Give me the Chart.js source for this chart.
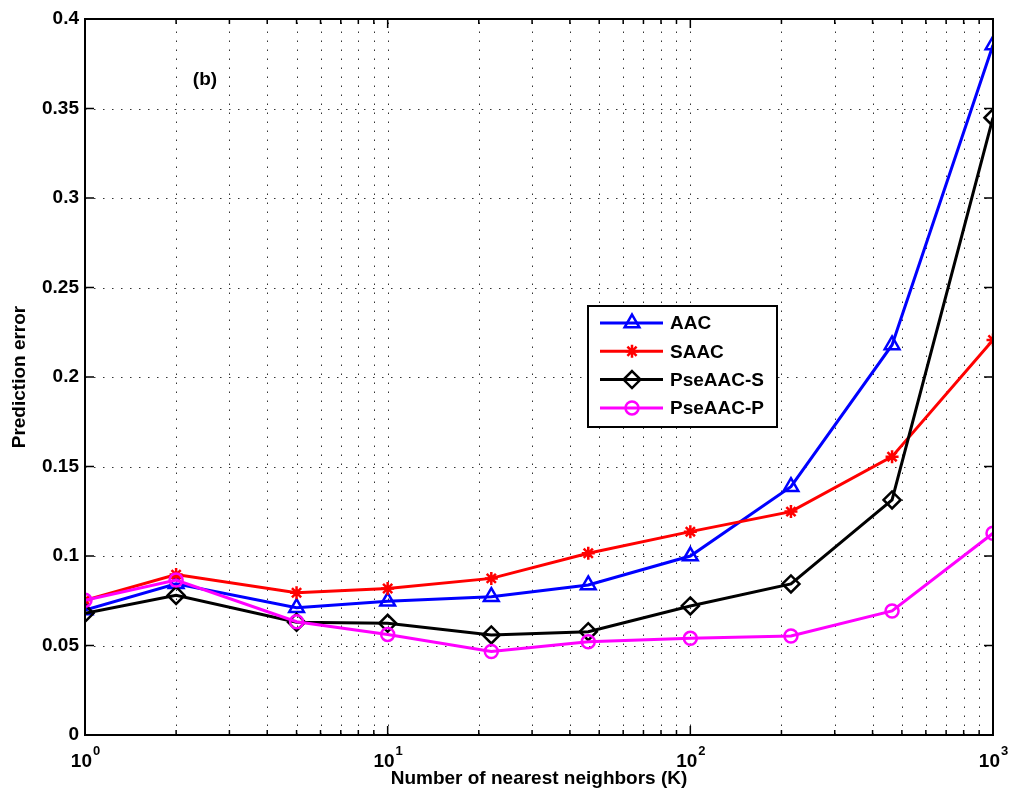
<!DOCTYPE html>
<html>
<head>
<meta charset="utf-8">
<script src="https://cdn.jsdelivr.net/npm/chart.js@4.4.1/dist/chart.umd.min.js"></script>
<style>
  html, body { margin: 0; padding: 0; background: #fff; }
  #wrap { width: 1017px; height: 798px; position: relative; }
</style>
</head>
<body>
<div id="wrap"><canvas id="error_graph"></canvas></div>
<script>
// K values (log scale) and prediction errors
const kValues   = [1, 2, 5, 10, 22, 46, 100, 215, 464, 1000];
const aac       = [0.0698, 0.0845, 0.0711, 0.0747, 0.0773, 0.0838, 0.1000, 0.1387, 0.2179, 0.3855];
const saac      = [0.0753, 0.0896, 0.0795, 0.0818, 0.0875, 0.1015, 0.1136, 0.1248, 0.1555, 0.2207];
const pseaacS   = [0.0680, 0.0780, 0.0630, 0.0624, 0.0559, 0.0577, 0.0721, 0.0844, 0.1313, 0.3449];
const pseaacP   = [0.0753, 0.0866, 0.0633, 0.0562, 0.0466, 0.0521, 0.0540, 0.0553, 0.0693, 0.1127];

const seriesNames   = ["AAC", "SAAC", "PseAAC-S", "PseAAC-P"];
const xTickValues   = [1, 10, 100, 1000];
const xTickBase     = ["10", "10", "10", "10"];
const xTickExp      = ["0", "1", "2", "3"];
const yTickValues   = [0, 0.05, 0.1, 0.15, 0.2, 0.25, 0.3, 0.35, 0.4];
const yTickLabels   = ["0", "0.05", "0.1", "0.15", "0.2", "0.25", "0.3", "0.35", "0.4"];

// minor grid positions 1..9 of each decade
let xGridValues = [];
for (let d of [1, 10, 100]){
    for (let m=1; m<10; m++){
        xGridValues.push(m*d);
    }
}
xGridValues.push(1000);

const FONT = "'Liberation Sans', Arial, Helvetica, sans-serif";

function points(ys){
    let pts = [];
    for (let i=0; i<kValues.length; i++){
        pts.push({x: kValues[i], y: ys[i]});
    }
    return pts;
}

function drawMarker(ctx, style, x, y, r){
    ctx.beginPath();
    if (style === "triangle"){
        for (let i=0; i<3; i++){
            let a = i*2*Math.PI/3;
            let px = x + Math.sin(a)*r, py = y - Math.cos(a)*r;
            if (i === 0) ctx.moveTo(px, py); else ctx.lineTo(px, py);
        }
        ctx.closePath();
    } else if (style === "star"){
        for (let i=0; i<4; i++){
            let a = i*Math.PI/4;
            ctx.moveTo(x - Math.cos(a)*r, y - Math.sin(a)*r);
            ctx.lineTo(x + Math.cos(a)*r, y + Math.sin(a)*r);
        }
    } else if (style === "rectRot"){
        ctx.moveTo(x, y - r);
        ctx.lineTo(x + r, y);
        ctx.lineTo(x, y + r);
        ctx.lineTo(x - r, y);
        ctx.closePath();
    } else {
        ctx.arc(x, y, r, 0, 2*Math.PI);
    }
    ctx.stroke();
}

const matlabAxes = {
    id: "matlabAxes",
    beforeDatasetsDraw(chart){
        const ctx = chart.ctx;
        const a   = chart.chartArea;
        const xs  = chart.scales.x;
        const ys  = chart.scales.y;
        ctx.save();
        ctx.strokeStyle = "#333";
        ctx.lineWidth = 1;
        ctx.setLineDash([1.5, 7.5]);
        for (let v of xGridValues){
            let px = Math.round(xs.getPixelForValue(v)) + 0.5;
            if (px <= a.left + 1 || px >= a.right - 1) continue;
            ctx.beginPath(); ctx.moveTo(px, a.bottom); ctx.lineTo(px, a.top); ctx.stroke();
        }
        for (let v of yTickValues){
            let py = Math.round(ys.getPixelForValue(v)) + 0.5;
            if (py <= a.top + 1 || py >= a.bottom - 1) continue;
            ctx.beginPath(); ctx.moveTo(a.left, py); ctx.lineTo(a.right, py); ctx.stroke();
        }
        ctx.restore();
    },
    afterDatasetsDraw(chart){
        const ctx = chart.ctx;
        const a   = chart.chartArea;
        const xs  = chart.scales.x;
        const ys  = chart.scales.y;
        ctx.save();
        ctx.setLineDash([]);
        ctx.strokeStyle = "#000";
        ctx.lineWidth = 1.5;
        // inner tick marks
        ctx.beginPath();
        for (let v of xGridValues){
            let px = xs.getPixelForValue(v);
            let len = xTickValues.includes(v) ? 9 : 5;
            ctx.moveTo(px, a.bottom); ctx.lineTo(px, a.bottom - len);
            ctx.moveTo(px, a.top);    ctx.lineTo(px, a.top + len);
        }
        for (let v of yTickValues){
            let py = ys.getPixelForValue(v);
            ctx.moveTo(a.left, py);  ctx.lineTo(a.left + 9, py);
            ctx.moveTo(a.right, py); ctx.lineTo(a.right - 9, py);
        }
        ctx.stroke();
        // box
        ctx.lineWidth = 2;
        ctx.strokeRect(a.left, a.top, a.right - a.left, a.bottom - a.top);

        // x tick labels: 10 with raised exponent
        ctx.fillStyle = "#000";
        ctx.textBaseline = "alphabetic";
        ctx.textAlign = "left";
        for (let i=0; i<xTickValues.length; i++){
            let px = xs.getPixelForValue(xTickValues[i]);
            ctx.font = "bold 19px " + FONT;
            let wb = ctx.measureText(xTickBase[i]).width;
            ctx.font = "bold 13px " + FONT;
            let we = ctx.measureText(xTickExp[i]).width;
            let x0 = px - (wb + we)/2;
            ctx.font = "bold 19px " + FONT;
            ctx.fillText(xTickBase[i], x0, a.bottom + 32);
            ctx.font = "bold 13px " + FONT;
            ctx.fillText(xTickExp[i], x0 + wb + 1, a.bottom + 20);
        }

        // panel label
        ctx.font = "bold 19px " + FONT;
        ctx.textAlign = "center";
        ctx.textBaseline = "middle";
        ctx.fillText("(b)", a.left + 120, a.top + 61);

        // legend
        let lx = a.left + 503, ly = a.top + 287, lw = 189, lh = 121;
        ctx.fillStyle = "#fff";
        ctx.fillRect(lx, ly, lw, lh);
        ctx.lineWidth = 2;
        ctx.strokeStyle = "#000";
        ctx.strokeRect(lx, ly, lw, lh);
        chart.data.datasets.forEach((ds, i) => {
            let ey = ly + 17 + i*28.3;
            ctx.strokeStyle = ds.borderColor;
            ctx.lineWidth = 3;
            ctx.beginPath(); ctx.moveTo(lx + 12, ey); ctx.lineTo(lx + 75, ey); ctx.stroke();
            ctx.lineWidth = 2.5;
            drawMarker(ctx, ds.pointStyle, lx + 44, ey, ds.pointRadius);
            ctx.fillStyle = "#000";
            ctx.textAlign = "left";
            ctx.fillText(ds.label, lx + 82, ey + 1);
        });
        ctx.restore();
    }
};

function makeDataset(label, ys, color, style, radius, order){
    return {
        label: label,
        data: points(ys),
        borderColor: color,
        backgroundColor: "rgba(0,0,0,0)",
        borderWidth: 3,
        pointStyle: style,
        pointRadius: radius,
        pointBorderWidth: 2.5,
        pointBorderColor: color,
        pointBackgroundColor: "rgba(0,0,0,0)",
        tension: 0,
        order: order
    };
}

const ctx     = document.getElementById("error_graph").getContext("2d");
const myChart = new Chart(ctx, {
    type: "line",
    data: {
        datasets: [
            makeDataset(seriesNames[0], aac,     "#0000ff", "triangle", 8.5, 4),
            makeDataset(seriesNames[1], saac,    "#ff0000", "star",     6.5, 3),
            makeDataset(seriesNames[2], pseaacS, "#000000", "rectRot",  8.5, 2),
            makeDataset(seriesNames[3], pseaacP, "#ff00ff", "circle",   6.5, 1),
        ]
    },
    options: {
        responsive: true,
        maintainAspectRatio: false,
        animation: false,
        layout: {
            padding: {top: 19, right: 24, left: 0, bottom: 0}
        },
        scales: {
            x: {
                type: "logarithmic",
                min: 1,
                max: 1000,
                grid: {display: false, drawTicks: false},
                border: {display: false},
                afterBuildTicks: (scale) => {
                    scale.ticks = xTickValues.map(v => ({value: v}));
                },
                afterFit: (scale) => { scale.height = 63; },
                ticks: {display: false},
                title: {
                    display: true,
                    text: "Number of nearest neighbors (K)",
                    color: "#000",
                    font: {family: FONT, size: 19, weight: "bold"},
                    padding: {top: 0, bottom: 8}
                }
            },
            y: {
                min: 0,
                max: 0.4,
                grid: {display: false, drawTicks: false},
                border: {display: false},
                afterBuildTicks: (scale) => {
                    scale.ticks = yTickValues.map(v => ({value: v}));
                },
                afterFit: (scale) => { scale.width = 85; },
                ticks: {
                    autoSkip: false,
                    padding: 6,
                    color: "#000",
                    font: {family: FONT, size: 19, weight: "bold"},
                    callback: (value, index) => yTickLabels[index]
                },
                title: {
                    display: true,
                    text: "Prediction error",
                    color: "#000",
                    font: {family: FONT, size: 19, weight: "bold"},
                    padding: {top: 8, bottom: 0}
                }
            }
        },
        plugins: {
            legend: {display: false},
            tooltip: {enabled: false}
        }
    },
    plugins: [matlabAxes]
});
</script>
</body>
</html>
